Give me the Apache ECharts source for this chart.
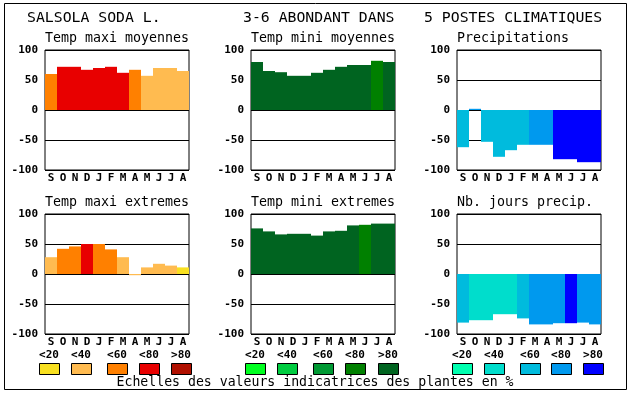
<!DOCTYPE html>
<html><head><meta charset="utf-8">
<script src="https://cdn.jsdelivr.net/npm/echarts@6/dist/echarts.min.js"></script>
<style>html,body{margin:0;padding:0;background:#fff}#c{width:630px;height:394px}</style>
</head><body><div id="c"></div>
<script>
const months = ['S','O','N','D','J','F','M','A','M','J','J','A'];
const yTicks = [-100,-50,0,50,100];
const titles = ['Temp maxi moyennes','Temp mini moyennes','Precipitations','Temp maxi extremes','Temp mini extremes','Nb. jours precip.'];
// values
const tmaxMoy = [60,72,72,67,70,72,62,67,57,70,70,65];
const tminMoy = [80,65,63,57,57,62,67,72,75,75,82,80];
const precip  = [-62,2,-53,-78,-67,-58,-58,-58,-82,-82,-87,-87];
const tmaxExt = [28,42,46,50,50,41,28,-2,11,17,14,11];
const tminExt = [76,71,66,67,67,64,71,72,81,82,84,84];
const nbJours = [-81,-77,-77,-67,-67,-74,-84,-84,-82,-82,-81,-84];
// class index (0:<20 1:<40 2:<60 3:<80 4:>80)
const tmaxMoyCls = [2,3,3,3,3,3,3,2,1,1,1,1];
const tminMoyCls = [4,4,4,4,4,4,4,4,4,4,3,4];
const precipCls  = [2,3,2,2,2,2,3,3,4,4,4,4];
const tmaxExtCls = [1,2,2,3,2,2,1,1,1,1,1,0];
const tminExtCls = [4,4,4,4,4,4,4,4,4,3,4,4];
const nbJoursCls = [2,1,1,1,1,2,3,3,3,4,3,3];
const legendLabels = ['<20','<40','<60','<80','>80'];
const mainTitle = ['SALSOLA SODA L.','3-6 ABONDANT DANS','5 POSTES CLIMATIQUES'];
const footer = 'Echelles des valeurs indicatrices des plantes en %';

const palRed = ['#f8e020','#ffbb50','#ff8000','#e80000','#b01000'];
const palGreen = ['#00ff20','#00cc40','#009933','#008000','#006420'];
const palBlue = ['#00ffb0','#00ddcc','#00bbdd','#0099ee','#0000ff'];
const pals = [palRed, palGreen, palBlue];

const panels = [
  [tmaxMoy,tmaxMoyCls,0],[tminMoy,tminMoyCls,1],[precip,precipCls,2],
  [tmaxExt,tmaxExtCls,0],[tminExt,tminExtCls,1],[nbJours,nbJoursCls,2]
];
const lefts = [45,251,457];
const tops = [50,214];
const mono = '"DejaVu Sans Mono", monospace';

const grid=[], xAxis=[], yAxis=[], series=[], graphic=[];
panels.forEach((p,i)=>{
  const col=i%3, row=Math.floor(i/3);
  grid.push({left:lefts[col], top:tops[row], width:144, height:120, show:true, borderColor:'#000', borderWidth:1, backgroundColor:'#fff'});
  xAxis.push({type:'category', gridIndex:i, data:months, axisLine:{show:false}, axisTick:{show:false},
    axisLabel:{interval:0, margin:3, color:'#000', fontFamily:mono, fontWeight:'bold', fontSize:11}});
  yAxis.push({type:'value', gridIndex:i, min:-100, max:100, interval:50,
    axisLine:{show:false}, axisTick:{show:false},
    splitLine:{show:true, lineStyle:{color:'#000', width:1}},
    axisLabel:{margin:7, color:'#000', fontFamily:mono, fontWeight:'bold', fontSize:11}});
  series.push({type:'bar', xAxisIndex:i, yAxisIndex:i, barWidth:'100%', barCategoryGap:'0%', z:1,
    data:p[0].map((v,k)=>({value:v, itemStyle:{color:pals[p[2]][p[1][k]]}}))});
  graphic.push({type:'text', left:lefts[col], top:tops[row]-18,
    style:{text:titles[i], font:'13.3px '+mono, fill:'#000'}});
});
// outer frame
graphic.push({type:'rect', shape:{x:4.5,y:3.5,width:622,height:386}, style:{fill:'none', stroke:'#000', lineWidth:1}, z:-1});
// main title
const mtX=[27,243,424];
mainTitle.forEach((t,i)=>graphic.push({type:'text', left:mtX[i], top:11, style:{text:t, font:'14.8px '+mono, fill:'#000'}}));
// legend
const boxX=[[39,71,107,139,171],[245,277,313,345,378],[452,484,520,551,583]];
boxX.forEach((g,gi)=>g.forEach((x,k)=>{
  graphic.push({type:'rect', shape:{x:x+0.5,y:363.5,width:20,height:11}, style:{fill:pals[gi][k], stroke:'#000', lineWidth:1}});
  graphic.push({type:'text', x:x+10, y:355, style:{text:legendLabels[k], font:'bold 11px '+mono, fill:'#000', align:'center', verticalAlign:'middle'}});
}));
graphic.push({type:'text', x:315, y:383, style:{text:footer, font:'13.2px '+mono, fill:'#000', align:'center', verticalAlign:'middle'}});

const chart = echarts.init(document.getElementById('c'), null, {renderer:'canvas'});
chart.setOption({animation:false, backgroundColor:'#fff', grid, xAxis, yAxis, series, graphic});
</script></body></html>
